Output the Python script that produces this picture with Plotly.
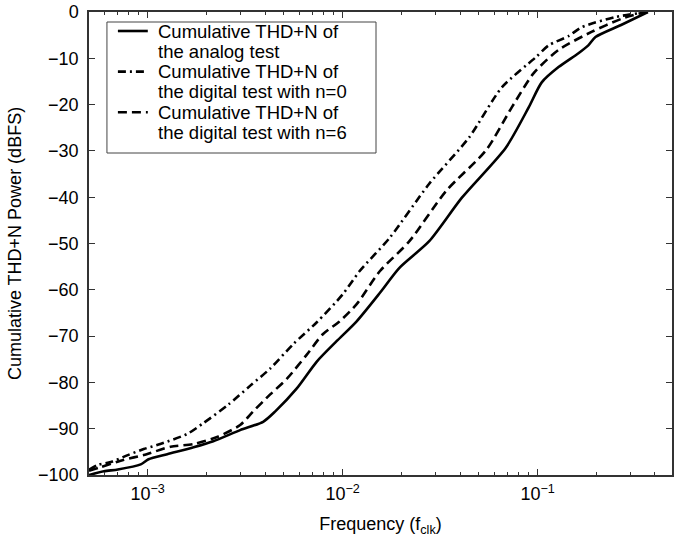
import plotly.graph_objects as go
import numpy as np

# Analog test (solid)
f_analog = [5.0e-4, 5.97e-4, 7.03e-4, 9.21e-4, 1.01e-3, 1.26e-3, 1.72e-3, 2.17e-3, 2.98e-3,
            3.91e-3, 4.50e-3, 5.82e-3, 7.37e-3, 9.31e-3, 1.18e-2, 1.55e-2, 1.95e-2, 2.78e-2,
            4.09e-2, 6.87e-2, 9.00e-2, 0.105, 0.128, 0.162, 0.182, 0.198, 0.268, 0.368]
p_analog = [-100, -99.2, -98.8, -97.7, -96.6, -95.5, -94.0, -92.7, -90.3,
            -88.5, -86.3, -81.3, -75.5, -71.1, -66.8, -60.7, -55.3, -49.5,
            -40.1, -29.3, -20.6, -15.2, -11.9, -8.9, -7.2, -5.4, -2.8, 0]

# Digital test n=0 (dash-dot)
f_n0 = [5.0e-4, 5.56e-4, 6.47e-4, 7.91e-4, 9.54e-4, 1.16e-3, 1.60e-3, 1.93e-3, 2.59e-3,
        3.36e-3, 4.25e-3, 5.56e-3, 7.37e-3, 1.00e-2, 1.22e-2, 1.74e-2, 2.78e-2, 4.45e-2,
        6.55e-2, 9.77e-2, 0.114, 0.144, 0.168, 0.250, 0.368]
p_n0 = [-98.9, -97.8, -97.2, -95.7, -94.4, -93.3, -91.1, -88.8, -84.8,
        -80.7, -77.0, -71.8, -67.0, -61.0, -56.0, -48.8, -37.1, -27.1,
        -16.3, -9.8, -7.2, -5.2, -3.3, -1.1, 0]

# Digital test n=6 (dashed)
f_n6 = [5.0e-4, 5.75e-4, 7.55e-4, 9.54e-4, 1.31e-3, 1.72e-3, 2.27e-3, 2.98e-3, 3.47e-3,
        4.25e-3, 5.18e-3, 6.55e-3, 7.91e-3, 9.66e-3, 1.18e-2, 1.55e-2, 2.20e-2, 3.40e-2,
        5.43e-2, 7.37e-2, 9.55e-2, 0.128, 0.189, 0.268, 0.356]
p_n6 = [-99.1, -98.3, -96.7, -95.7, -93.9, -93.3, -91.8, -89.2, -86.3,
        -82.6, -79.2, -74.0, -69.6, -66.8, -63.1, -56.0, -49.5, -38.6,
        -29.9, -20.6, -13.2, -8.2, -4.3, -1.5, 0]

legend_lines = [["Cumulative THD+N of", "the analog test"],
                ["Cumulative THD+N of", "the digital test with n=0"],
                ["Cumulative THD+N of", "the digital test with n=6"]]

x_tickvals = [1e-3, 1e-2, 1e-1]
x_ticktext = ["10<sup>\u22123</sup>", "10<sup>\u22122</sup>", "10<sup>\u22121</sup>"]
y_tickvals = list(range(-100, 1, 10))

FONT = "Liberation Sans, Arial, sans-serif"
AX = "#333333"
DASHES = ["solid", "8px,4px,2px,4px", "9px,5px"]

# plot area in pixels (for placing the legend in paper coords)
L, R, T, B = 89, 674, 12, 475
def px(x):
    return (x - L) / (R - L)
def py(y):
    return (B - y) / (B - T)

fig = go.Figure()
for fx, fy, dash, lines in zip([f_analog, f_n0, f_n6], [p_analog, p_n0, p_n6], DASHES, legend_lines):
    fig.add_trace(go.Scatter(x=fx, y=fy, mode="lines", name=" ".join(lines), showlegend=False,
                             line=dict(color="black", width=2.6, dash=dash,
                                       shape="spline", smoothing=0.7)))

# legend (frame, samples, text)
fig.add_shape(type="rect", xref="paper", yref="paper",
              x0=px(107), x1=px(377), y0=py(153), y1=py(22),
              line=dict(color="#444444", width=1), fillcolor="white", layer="above")
entry_y = [31, 71.6, 112.2]
line_gap = 20.3
for i, (lines, dash) in enumerate(zip(legend_lines, DASHES)):
    y0 = entry_y[i]
    fig.add_shape(type="line", xref="paper", yref="paper",
                  x0=px(118), x1=px(148), y0=py(y0), y1=py(y0),
                  line=dict(color="black", width=2.6, dash=dash), layer="above")
    for j, t in enumerate(lines):
        fig.add_annotation(xref="paper", yref="paper", x=px(156), y=py(y0 + j * line_gap),
                           xanchor="left", yanchor="middle", text=t, showarrow=False,
                           font=dict(family=FONT, size=18.5, color="black"))

fig.update_layout(
    width=674, height=539,
    margin=dict(l=L, r=674 - R, t=T, b=539 - B),
    paper_bgcolor="white", plot_bgcolor="white",
    font=dict(family=FONT, size=18, color="black"),
    showlegend=False,
    xaxis=dict(type="log", range=[np.log10(5e-4), np.log10(0.489)],
               tickvals=x_tickvals, ticktext=x_ticktext,
               ticks="inside", ticklen=6, tickcolor=AX, tickwidth=1,
               showline=True, linecolor=AX, linewidth=1.5, mirror="ticks",
               showgrid=False, zeroline=False, ticklabelstandoff=2,
               minor=dict(ticks="inside", ticklen=3, tickcolor=AX, dtick="D1", showgrid=False),
               tickfont=dict(family=FONT, size=18),
               title=dict(text="Frequency (f<sub>clk</sub>)", standoff=14,
                          font=dict(family=FONT, size=18))),
    yaxis=dict(range=[-100, 0], tickvals=y_tickvals,
               ticks="inside", ticklen=6, tickcolor=AX, tickwidth=1,
               showline=True, linecolor=AX, linewidth=1.5, mirror="ticks",
               showgrid=False, zeroline=False, ticklabelstandoff=5,
               tickfont=dict(family=FONT, size=18),
               title=dict(text="Cumulative THD+N Power (dBFS)", standoff=12,
                          font=dict(family=FONT, size=18))),
)

fig.write_html("out.html")
